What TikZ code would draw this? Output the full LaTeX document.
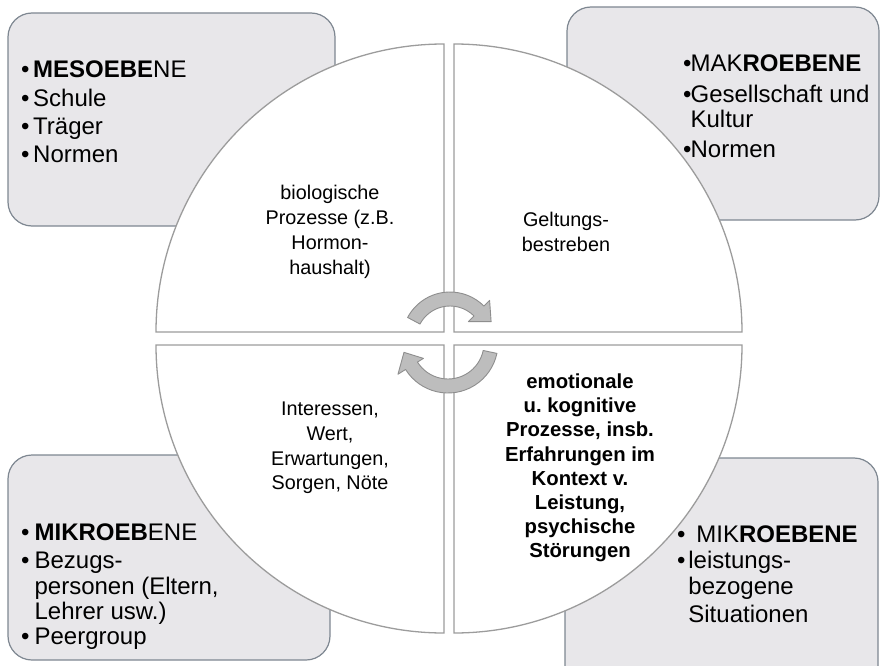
\documentclass[tikz,border=0pt]{standalone}
\usepackage{fontspec}
\setmainfont{Liberation Sans}
\frenchspacing
\definecolor{boxfill}{HTML}{E8E7EA}
\definecolor{boxline}{HTML}{7E8791}
\definecolor{quadline}{HTML}{9C9C9C}
\definecolor{arrowfill}{HTML}{BDBDBD}
\definecolor{arrowline}{HTML}{8E8E8E}
\begin{document}
\begin{tikzpicture}[x=1pt,y=1pt,
  box/.style={fill=boxfill, draw=boxline, line width=1.2pt, rounded corners=24pt},
  quad/.style={fill=white, draw=quadline, line width=1.3pt},
  turn/.style={fill=arrowfill, draw=arrowline, line width=0.9pt, line join=round},
  corner/.style={inner sep=0pt, font=\fontsize{24}{24}\selectfont},
  inner/.style={inner sep=0pt, align=center, font=\fontsize{19.8}{24.8}\selectfont},
  innerbold/.style={inner sep=0pt, align=center, font=\fontsize{#1}{24.2}\selectfont\bfseries}]
\useasboundingbox (0,0) rectangle (881,-666);
% corner boxes
\path[box] (8,-13) rectangle (335,-226);
\path[box] (567,-7) rectangle (879,-220);
\path[box] (8,-455) rectangle (330,-660);
\path[box] (565,-458) rectangle (878,-690);
% quadrants
\path[quad] (444,-332) -- (156,-332) arc[start angle=180,end angle=90,radius=288] -- cycle;
\path[quad] (454,-332) -- (454,-44) arc[start angle=90,end angle=0,radius=288] -- cycle;
\path[quad] (444,-345) -- (156,-345) arc[start angle=180,end angle=270,radius=288] -- cycle;
\path[quad] (454,-345) -- (742,-345) arc[start angle=0,end angle=-90,radius=288] -- cycle;
% corner texts
\node[corner, anchor=base west] (meso) at (21,-78)
  {\begin{tabular}[t]{@{}l@{\hspace{3.6pt}}l@{}}•&\textbf{MESOEBE}NE\\[4pt]•&Schule\\[4pt]•&Träger\\[4pt]•&Normen\end{tabular}};
\node[corner, anchor=base west] (makro) at (683,-72)
  {\begin{tabular}[t]{@{}l@{\hspace{-1pt}}l@{}}•&MAK\textbf{ROEBENE}\\[6pt]•&Gesellschaft und\\&Kultur\\[6pt]•&Normen\end{tabular}};
\node[corner, anchor=base west] (mikroA) at (21,-540)
  {\begin{tabular}[t]{@{}l@{\hspace{5pt}}l@{}}•&\textbf{MIKROEB}ENE\\[4pt]•&Bezugs-\\[2pt]&personen (Eltern,\\&Lehrer usw.)\\[1pt]•&Peergroup\end{tabular}};
\node[corner, anchor=base west] (mikroB) at (677,-542)
  {\begin{tabular}[t]{@{}l@{\hspace{2.8pt}}l@{}}•&\hspace{8pt}MIK\textbf{ROEBENE}\\[2pt]•&leistungs-\\[1pt]&bezogene\\[4pt]&Situationen\end{tabular}};
% circle texts
\node[inner] (bio) at (330,-232) {biologische\\Prozesse (z.B.\\Hormon-\\haushalt)};
\node[inner] (gelt) at (566,-232) {Geltungs-\\bestreben};
\node[inner] (inter) at (330,-448) {Interessen,\\Wert,\\Erwartungen,\\Sorgen, Nöte};
\node[innerbold=20.3] (emo) at (580,-468) {emotionale\\u. kognitive\\Prozesse, insb.\\Erfahrungen im\\Kontext v.\\Leistung,\\psychische\\Störungen};
% turning arrows
\begin{scope}[shift={(450,-340)}]
\path[turn] (152:48) arc[start angle=152,end angle=45,radius=48] -- (45:56) -- (24:45) -- (45:26) -- (45:34) arc[start angle=45,end angle=152,radius=34] -- cycle;
\end{scope}
\begin{scope}[shift={(448,-343)}]
\path[turn] (-12:36) arc[start angle=-12,end angle=-148,radius=36] -- (-148:29) -- (-168:45) -- (-148:59) -- (-148:50) arc[start angle=-148,end angle=-12,radius=50] -- cycle;
\end{scope}
\end{tikzpicture}
\end{document}
